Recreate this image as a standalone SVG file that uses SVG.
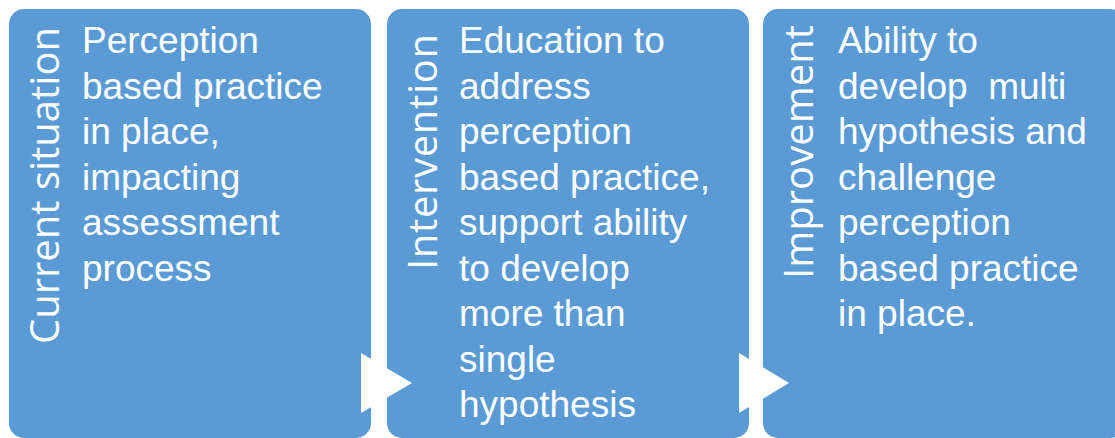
<svg xmlns="http://www.w3.org/2000/svg" width="1115" height="438" viewBox="0 0 1115 438">
  <style>
    .box { fill: #5B9BD5; }
    .title { font-family: "Open Sans", "Liberation Sans", Arial, sans-serif; font-weight: 400; font-size: 40px; fill: #FFFFFF; }
    .body { font-family: "Liberation Sans", Arial, sans-serif; font-size: 37px; fill: #FFFFFF; }
    .arrow { fill: #FFFFFF; }
  </style>
  <rect x="0" y="0" width="1115" height="438" fill="#FFFFFF"/>

  <g id="node-current-situation">
    <rect class="box" x="9" y="9" width="362" height="429" rx="15" ry="15"/>
    <text class="title" transform="translate(59,344) rotate(-90)" x="0" y="0" textLength="317" lengthAdjust="spacing">Current situation</text>
    <text class="body" x="82" y="53">Perception</text>
    <text class="body" x="82" y="98.5">based practice</text>
    <text class="body" x="82" y="144">in place,</text>
    <text class="body" x="82" y="189.5">impacting</text>
    <text class="body" x="82" y="235">assessment</text>
    <text class="body" x="82" y="280.5">process</text>
  </g>

  <g id="node-intervention">
    <rect class="box" x="387" y="9" width="362" height="429" rx="15" ry="15"/>
    <text class="title" transform="translate(437,270) rotate(-90)" x="0" y="0" textLength="236" lengthAdjust="spacing">Intervention</text>
    <text class="body" x="459" y="53">Education to</text>
    <text class="body" x="459" y="98.5">address</text>
    <text class="body" x="459" y="144">perception</text>
    <text class="body" x="459" y="189.5">based practice,</text>
    <text class="body" x="459" y="235">support ability</text>
    <text class="body" x="459" y="280.5">to develop</text>
    <text class="body" x="459" y="326">more than</text>
    <text class="body" x="459" y="371.5">single</text>
    <text class="body" x="459" y="417">hypothesis</text>
  </g>

  <g id="node-improvement">
    <rect class="box" x="763" y="9" width="362" height="429" rx="15" ry="15"/>
    <text class="title" transform="translate(813,279) rotate(-90)" x="0" y="0" textLength="254" lengthAdjust="spacing">Improvement</text>
    <text class="body" x="838" y="53">Ability to</text>
    <text class="body" x="838" y="98.5" xml:space="preserve">develop  multi</text>
    <text class="body" x="838" y="144">hypothesis and</text>
    <text class="body" x="838" y="189.5">challenge</text>
    <text class="body" x="838" y="235">perception</text>
    <text class="body" x="838" y="280.5">based practice</text>
    <text class="body" x="838" y="326">in place.</text>
  </g>

  <g id="connectors">
    <polygon class="arrow" points="361,353 412,383 361,413"/>
    <polygon class="arrow" points="739,353 789,383 739,413"/>
  </g>
</svg>
